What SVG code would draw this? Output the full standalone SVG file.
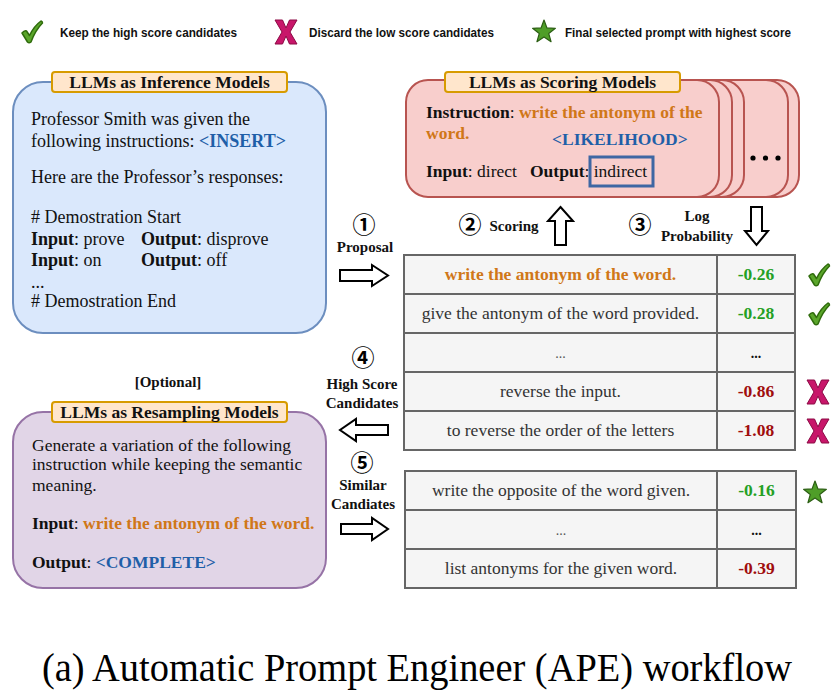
<svg xmlns="http://www.w3.org/2000/svg" xmlns:xlink="http://www.w3.org/1999/xlink" width="836" height="697" viewBox="0 0 836 697">
<style>
.serif{font-family:"Liberation Serif","Times New Roman",serif;}
.b{font-weight:bold;}
.body{font-family:"Liberation Serif","Times New Roman",serif;font-size:18px;fill:#111;}
.body2{font-family:"Liberation Serif","Times New Roman",serif;font-size:17.5px;fill:#111;}
.title{font-family:"Liberation Serif","Times New Roman",serif;font-size:17.5px;font-weight:bold;fill:#111;text-anchor:middle;}
.lbl{fill:#ffe6cc;stroke:#d79b00;stroke-width:2;}
.step{font-family:"Liberation Serif","Times New Roman",serif;font-size:15px;font-weight:bold;fill:#111;text-anchor:middle;}
.num{font-family:"Noto Sans CJK JP","DejaVu Sans",sans-serif;font-size:23px;font-weight:bold;fill:#000;text-anchor:middle;}
.cell{fill:#f5f5f5;stroke:#666;stroke-width:2;}
.ct{font-family:"Liberation Serif","Times New Roman",serif;font-size:17.5px;fill:#333;text-anchor:middle;}
.sc{font-family:"Liberation Serif","Times New Roman",serif;font-size:17.5px;font-weight:bold;text-anchor:middle;}
.or{fill:#d07718;font-weight:bold;}
.bl{fill:#1f5fa8;font-weight:bold;}
.gr{fill:#24a024;}
.rd{fill:#a00d0d;}
.arr{fill:#fff;stroke:#000;stroke-width:2;stroke-linejoin:miter;}
.leg{font-family:"Liberation Sans",Arial,sans-serif;font-size:13px;font-weight:bold;fill:#111;}
.pink{fill:#f8cecc;stroke:#b85450;stroke-width:2;}
</style>
<defs>
<path id="chk" d="M1,12 Q3.5,9 5.5,10 L8.5,14.5 Q13,5 20,0 Q21.5,0.5 21.5,2 Q14.5,9 10,21 Q8,22.5 6.5,21 Z" fill="#5aa62a" stroke="#2f6b0c" stroke-width="1.5" stroke-linejoin="round"/>
<path id="xx" d="M0,0 L7.5,0 L11,8 L14.5,0 L22,0 L15,12 L22,24 L14.5,24 L11,16 L7.5,24 L0,24 L7,12 Z" fill="#c8166a" stroke="#8c0a45" stroke-width="1"/>
<polygon id="star" points="12,0 14.94,7.95 23.41,8.29 16.76,13.55 19.05,21.71 12,17 4.95,21.71 7.24,13.55 0.59,8.29 9.06,7.95" fill="#4f9e28" stroke="#2c5e14" stroke-width="1.2" stroke-linejoin="round"/>
</defs>
<rect width="836" height="697" fill="#fff"/>

<g id="legend">
<use xlink:href="#chk" x="21" y="21"/>
<text class="leg" x="60" y="37" textLength="177" lengthAdjust="spacingAndGlyphs">Keep the high score candidates</text>
<use xlink:href="#xx" x="275" y="20"/>
<text class="leg" x="309" y="37" textLength="185" lengthAdjust="spacingAndGlyphs">Discard the low score candidates</text>
<use xlink:href="#star" x="532" y="20"/>
<text class="leg" x="565" y="37" textLength="226" lengthAdjust="spacingAndGlyphs">Final selected prompt with highest score</text>
</g>

<g id="inference">
<rect x="13" y="82" width="313" height="251" rx="30" fill="#dae8fc" stroke="#6c8ebf" stroke-width="2"/>
<rect class="lbl" x="52" y="72" width="235" height="20" rx="3"/>
<text class="title" x="169.5" y="88">LLMs as Inference Models</text>
<text class="body" x="31" y="125">Professor Smith was given the</text>
<text class="body" x="31" y="147">following instructions: <tspan class="bl">&lt;INSERT&gt;</tspan></text>
<text class="body" x="31" y="183">Here are the Professor’s responses:</text>
<text class="body" x="31" y="223">#  Demostration Start</text>
<text class="body" x="31" y="245"><tspan class="b">Input</tspan>: prove</text>
<text class="body" x="141" y="245"><tspan class="b">Output</tspan>: disprove</text>
<text class="body" x="31" y="266"><tspan class="b">Input</tspan>: on</text>
<text class="body" x="141" y="266"><tspan class="b">Output</tspan>: off</text>
<text class="body" x="31" y="288">...</text>
<text class="body" x="31" y="307">#  Demostration End</text>
</g>

<g id="scoring">
<rect class="pink" x="486" y="80" width="313" height="117" rx="22"/>
<rect class="pink" x="475" y="80" width="313" height="117" rx="22"/>
<rect class="pink" x="431" y="80" width="313" height="117" rx="22"/>
<rect class="pink" x="419" y="80" width="313" height="117" rx="22"/>
<rect class="pink" x="406" y="80" width="313" height="117" rx="22"/>
<circle cx="753" cy="158" r="2.6" fill="#000"/>
<circle cx="765.5" cy="158" r="2.6" fill="#000"/>
<circle cx="778" cy="158" r="2.6" fill="#000"/>
<rect class="lbl" x="445" y="72" width="235" height="20" rx="3"/>
<text class="title" x="562.5" y="88">LLMs as Scoring Models</text>
<text class="body2" x="426" y="118"><tspan class="b">Instruction</tspan>: <tspan class="or">write the antonym of the</tspan></text>
<text class="body2" x="426" y="139"><tspan class="or">word.</tspan></text>
<text class="body2" x="552" y="145"><tspan class="bl">&lt;LIKELIHOOD&gt;</tspan></text>
<text class="body2" x="426" y="177"><tspan class="b">Input</tspan>: direct</text>
<text class="body2" x="530" y="177"><tspan class="b">Output</tspan>: indirect</text>
<rect x="590" y="157" width="63" height="29" fill="none" stroke="#3e67a3" stroke-width="3"/>
</g>

<g id="resampling">
<text class="step" x="168" y="387">[Optional]</text>
<rect x="13" y="412" width="313" height="176" rx="30" fill="#e1d5e7" stroke="#9673a6" stroke-width="2"/>
<rect class="lbl" x="52" y="402" width="235" height="20" rx="3"/>
<text class="title" x="169.5" y="418">LLMs as Resampling Models</text>
<text class="body2" x="32" y="451">Generate a variation of the following</text>
<text class="body2" x="32" y="470">instruction while keeping the semantic</text>
<text class="body2" x="32" y="491">meaning.</text>
<text class="body2" x="32" y="529"><tspan class="b">Input</tspan>: <tspan class="or">write the antonym of the word.</tspan></text>
<text class="body2" x="32" y="568"><tspan class="b">Output</tspan>: <tspan class="bl">&lt;COMPLETE&gt;</tspan></text>
</g>

<g id="table1">
<rect class="cell" x="404" y="255" width="313" height="39"/><rect class="cell" x="717" y="255" width="78" height="39"/>
<rect class="cell" x="404" y="294" width="313" height="39"/><rect class="cell" x="717" y="294" width="78" height="39"/>
<rect class="cell" x="404" y="333" width="313" height="39"/><rect class="cell" x="717" y="333" width="78" height="39"/>
<rect class="cell" x="404" y="372" width="313" height="39"/><rect class="cell" x="717" y="372" width="78" height="39"/>
<rect class="cell" x="404" y="411" width="313" height="39"/><rect class="cell" x="717" y="411" width="78" height="39"/>
<text class="ct" x="560.5" y="280"><tspan class="or">write the antonym of the word.</tspan></text>
<text class="sc gr" x="756" y="280">-0.26</text>
<text class="ct" x="560.5" y="319">give the antonym of the word provided.</text>
<text class="sc gr" x="756" y="319">-0.28</text>
<text class="ct" x="560.5" y="358" style="font-size:14px;fill:#555">...</text>
<text class="sc" x="756" y="358" style="font-size:14px;fill:#111">...</text>
<text class="ct" x="560.5" y="397">reverse the input.</text>
<text class="sc rd" x="756" y="397">-0.86</text>
<text class="ct" x="560.5" y="436">to reverse the order of the letters</text>
<text class="sc rd" x="756" y="436">-1.08</text>
<use xlink:href="#chk" x="808" y="264"/>
<use xlink:href="#chk" x="808" y="303"/>
<use xlink:href="#xx" x="807" y="380"/>
<use xlink:href="#xx" x="807" y="419"/>
</g>

<g id="table2">
<rect class="cell" x="405" y="471" width="312" height="39"/><rect class="cell" x="717" y="471" width="79" height="39"/>
<rect class="cell" x="405" y="510" width="312" height="39"/><rect class="cell" x="717" y="510" width="79" height="39"/>
<rect class="cell" x="405" y="549" width="312" height="39"/><rect class="cell" x="717" y="549" width="79" height="39"/>
<text class="ct" x="561" y="496">write the opposite of the word given.</text>
<text class="sc gr" x="756.5" y="496">-0.16</text>
<text class="ct" x="561" y="535" style="font-size:14px;fill:#555">...</text>
<text class="sc" x="756.5" y="535" style="font-size:14px;fill:#111">...</text>
<text class="ct" x="561" y="574">list antonyms for the given word.</text>
<text class="sc rd" x="756.5" y="574">-0.39</text>
<use xlink:href="#star" x="803" y="481"/>
</g>

<g id="connectors">
<path class="arr" d="M340,270 L372,270 L372,265 L388,275.5 L372,286 L372,281 L340,281 Z"/>
<path class="arr" d="M388,425 L356,425 L356,419 L340,430 L356,441 L356,435 L388,435 Z"/>
<path class="arr" d="M341,524 L372,524 L372,518 L388,529 L372,540 L372,534 L341,534 Z"/>
<path class="arr" d="M560.5,207 L573,221 L566,221 L566,245 L555,245 L555,221 L548,221 Z"/>
<path class="arr" d="M751,207 L762,207 L762,231 L768,231 L756.5,245 L745,231 L751,231 Z"/>
<text class="num" x="364" y="233">①</text>
<text class="step" x="365" y="252">Proposal</text>
<text class="num" x="470" y="233">②</text>
<text class="step" x="514" y="231">Scoring</text>
<text class="num" x="640" y="233">③</text>
<text class="step" x="697" y="221">Log</text>
<text class="step" x="697" y="241">Probability</text>
<text class="num" x="363" y="366">④</text>
<text class="step" x="362" y="389">High Score</text>
<text class="step" x="362" y="408">Candidates</text>
<text class="num" x="362" y="471">⑤</text>
<text class="step" x="363" y="490">Similar</text>
<text class="step" x="363" y="509">Candiates</text>
</g>

<text class="serif" x="42" y="681" font-size="40" textLength="750" lengthAdjust="spacingAndGlyphs" fill="#000">(a) Automatic Prompt Engineer (APE) workflow</text>
</svg>
